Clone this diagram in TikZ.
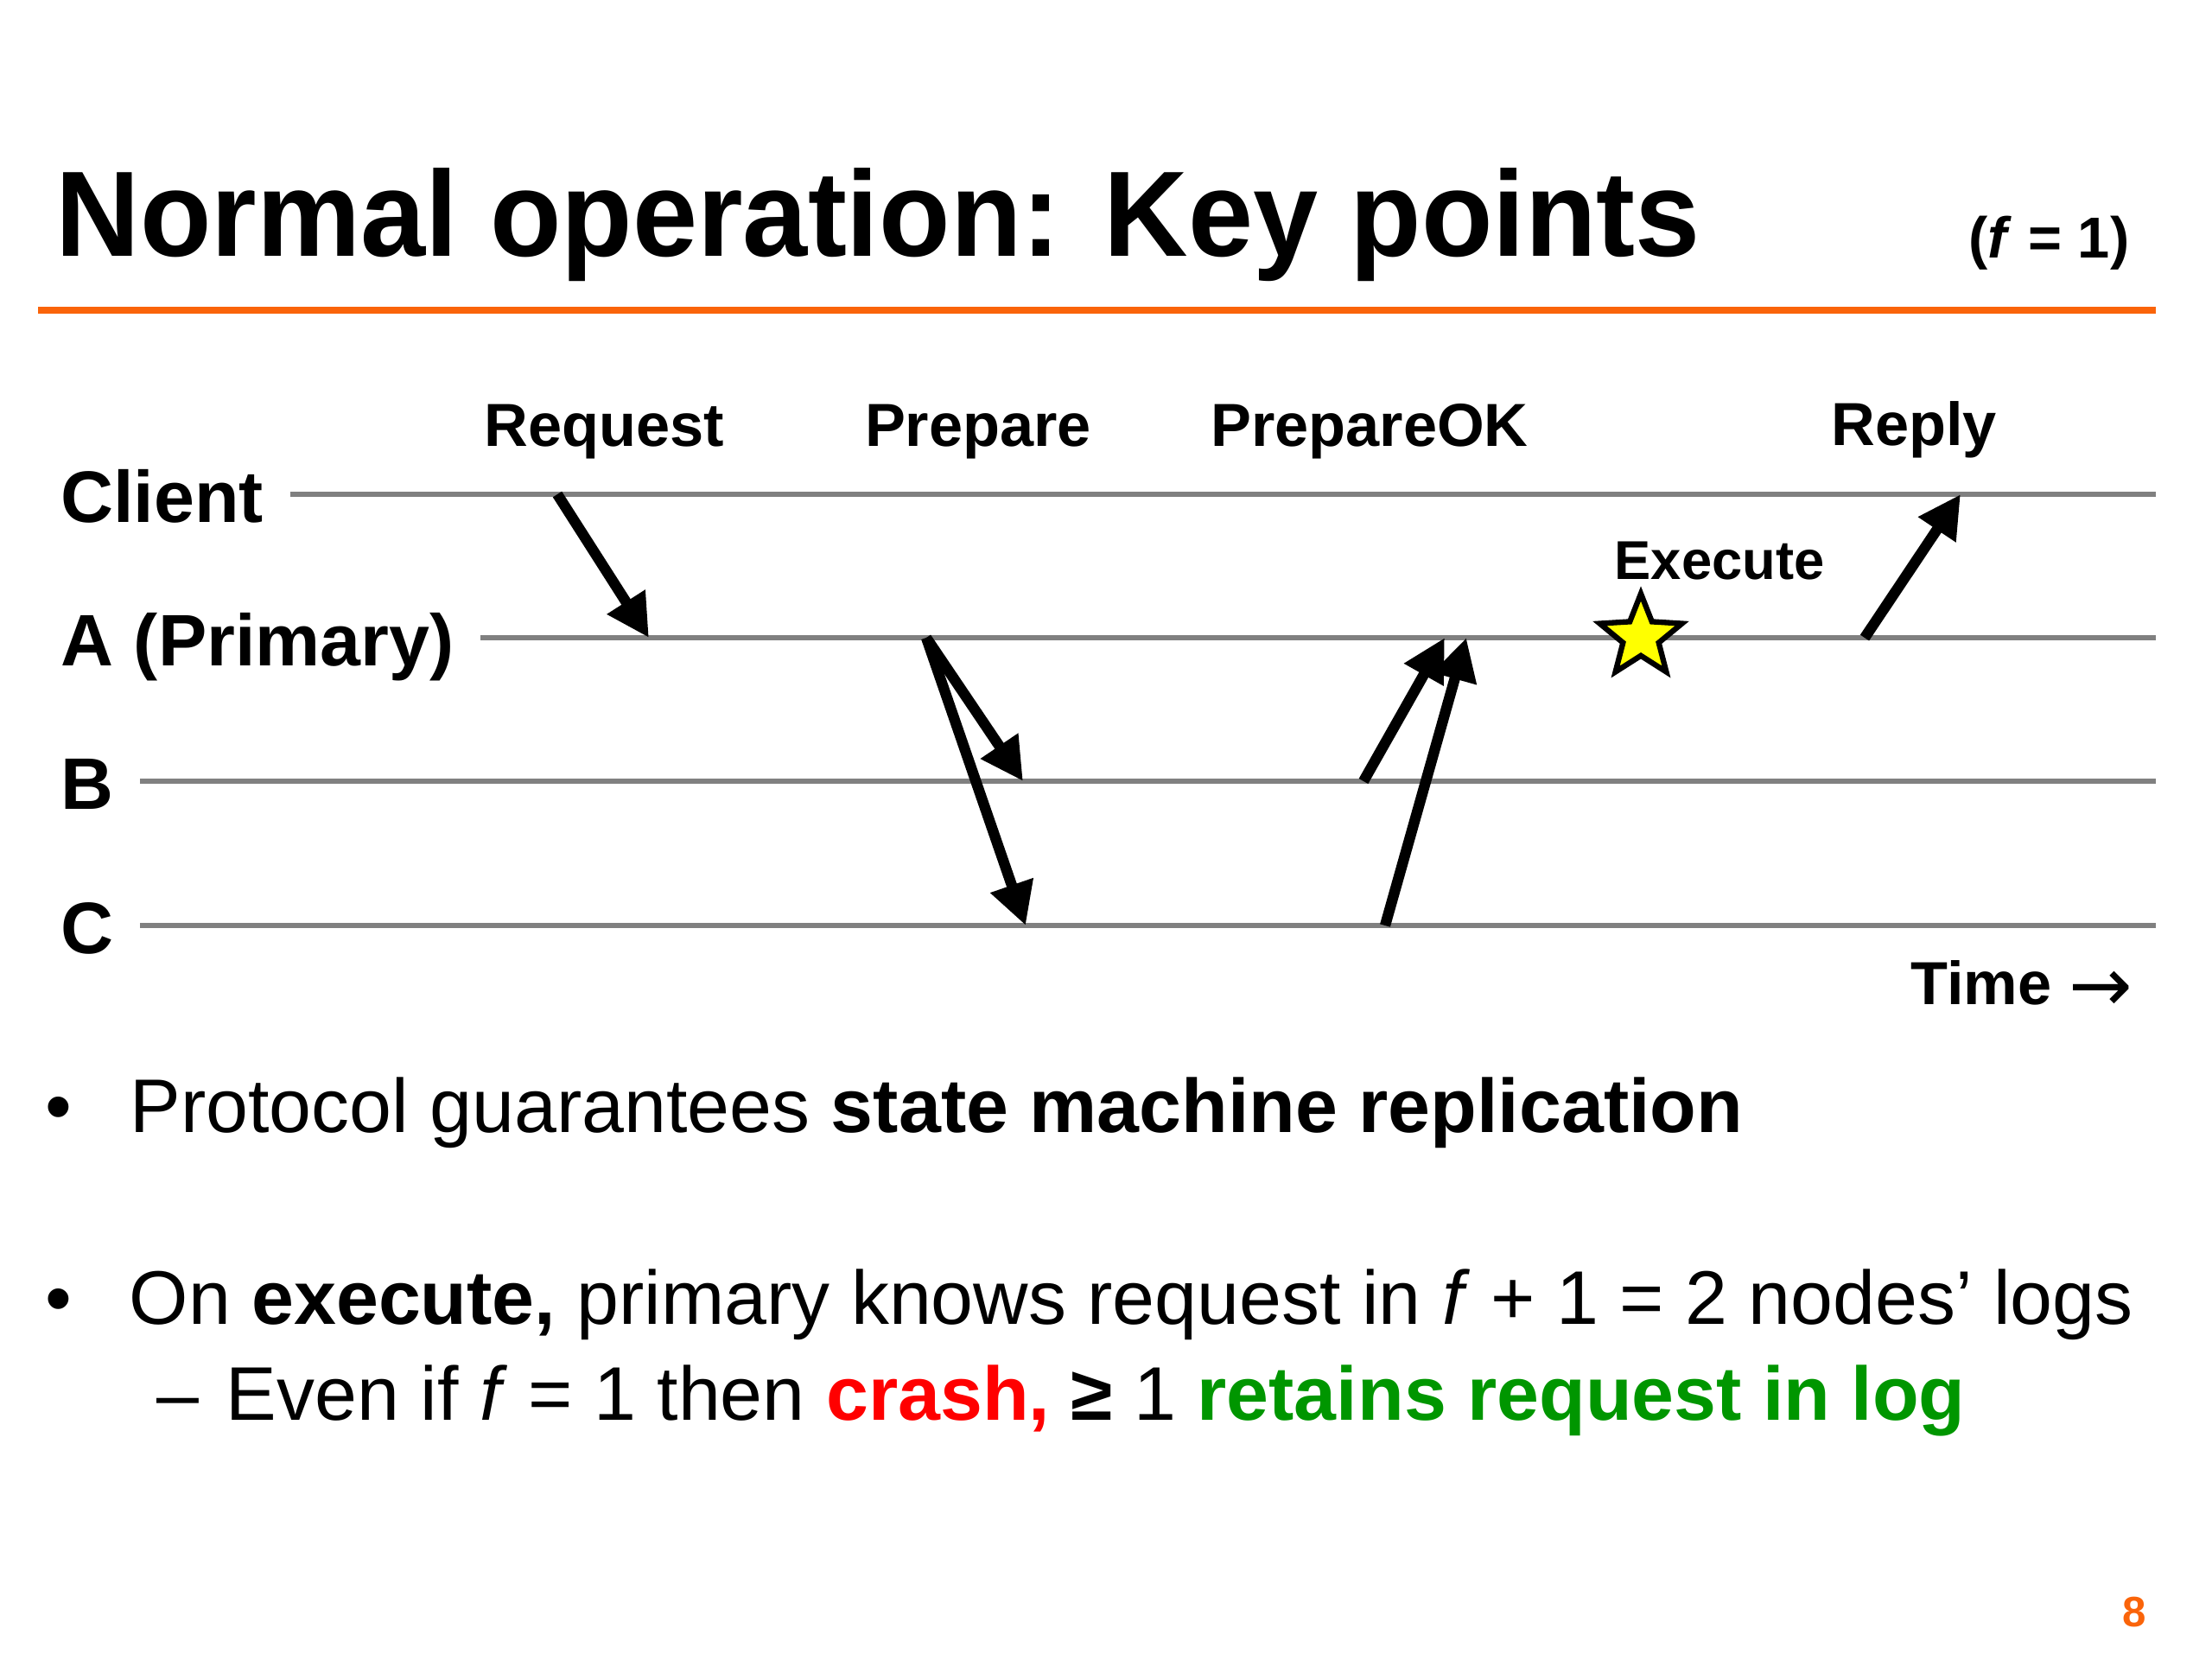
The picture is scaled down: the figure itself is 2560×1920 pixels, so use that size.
\documentclass[tikz,border=0pt]{standalone}
\usepackage{fontspec}
\setmainfont{Liberation Sans}
\newfontfamily\symfont{DejaVu Sans}
\usepackage{graphicx}
\usepackage{xcolor}
\definecolor{slideorange}{RGB}{250,100,10}
\definecolor{lanegray}{RGB}{128,128,128}
\definecolor{crashred}{RGB}{255,0,0}
\definecolor{keepgreen}{RGB}{0,150,0}
\definecolor{staryellow}{RGB}{255,255,0}
\usepackage{tikz}
\usetikzlibrary{arrows.meta,positioning,shapes.geometric}

\begin{document}
\begin{tikzpicture}[
  x=0.01cm, y=-0.01cm,
  txt/.style={inner sep=0pt, anchor=base west},
  lanelbl/.style={inner xsep=8.5pt, inner ysep=0pt, anchor=base west,
    font=\fontsize{24}{29}\selectfont\bfseries},
  msglbl/.style={inner sep=0pt, anchor=base,
    font=\fontsize{20}{24}\selectfont\bfseries},
  lane/.style={draw=lanegray, line width=1.9pt},
  msg/.style={-{Triangle[length=14pt,width=14pt]}, line width=3.5pt, black},
  bodytxt/.style={txt, font=\fontsize{25}{30}\selectfont},
  dotlbl/.style={inner sep=0pt, anchor=base, font=\fontsize{25}{30}\selectfont},
  rule/.style={draw=slideorange, line width=2pt}
]
  \useasboundingbox (0,0) rectangle (2560,1920);

  \node[txt, font=\fontsize{40}{48}\selectfont\bfseries] (title) at (64,296)
    {\scalebox{0.96}[1]{Normal operation: Key points}};
  \node[inner sep=0pt, anchor=base east, font=\fontsize{19}{23}\selectfont\bfseries]
    (fval) at (2465,298) {(\textit{f} = 1)};
  \coordinate (rulel) at (44,359);
  \coordinate (ruler) at (2495,359);
  \draw[rule] (rulel) -- (ruler);

  \node[lanelbl] (client) at (40,604) {Client};
  \node[lanelbl] (prim) at (40,770) {A (Primary)};
  \node[lanelbl] (repb) at (40,936) {B};
  \node[lanelbl] (repc) at (40,1103) {C};
  \coordinate (clientend) at (2495,572);
  \coordinate (primend) at (2495,738);
  \coordinate (repbend) at (2495,904);
  \coordinate (repcend) at (2495,1071);
  \draw[lane] (client.east |- clientend) -- (clientend);
  \draw[lane] (prim.east |- primend) -- (primend);
  \draw[lane] (repb.east |- repbend) -- (repbend);
  \draw[lane] (repc.east |- repcend) -- (repcend);

  \node[msglbl] (reqlbl) at (699,516) {Request};
  \node[msglbl] (prplbl) at (1132,516) {Prepare};
  \node[msglbl] (oklbl) at (1585,516) {PrepareOK};
  \node[msglbl] (replbl) at (2215,515) {Reply};

  \coordinate (rq1) at (645,572);
  \coordinate (rq2) at (751,738);
  \coordinate (pp0) at (1072,738);
  \coordinate (ppb) at (1184,904);
  \coordinate (ppc) at (1187,1071);
  \coordinate (okb) at (1578,904);
  \coordinate (okc) at (1603,1071);
  \coordinate (oka1) at (1672,738);
  \coordinate (oka2) at (1697,738);
  \coordinate (rp1) at (2158,738);
  \coordinate (rp2) at (2269,572);
  \draw[msg] (rq1) -- (rq2);
  \draw[msg] (pp0) -- (ppb);
  \draw[msg] (pp0) -- (ppc);
  \draw[msg] (okb) -- (oka1);
  \draw[msg] (okc) -- (oka2);
  \draw[msg] (rp1) -- (rp2);

  \node[star, star points=5, star point ratio=2.3, minimum size=1cm,
    inner sep=0pt, draw=black, fill=staryellow, line width=1.8pt]
    (exec) at (1899,737) {};
  \node[inner sep=0pt, anchor=base, font=\fontsize{18}{22}\selectfont\bfseries]
    (execlbl) at (1990,670) {Execute};

  \node[txt, font=\fontsize{20}{24}\selectfont\bfseries] (timelbl) at (2211,1162)
    {Time {\symfont\mdseries\fontsize{25}{25}\selectfont\raisebox{-2.5pt}{→}}};

  \node[dotlbl] (dot1) at (68,1310) {•};
  \node[bodytxt] (pt1) at (150,1310)
    {Protocol guarantees \textbf{state machine replication}};
  \node[dotlbl] (dot2) at (68,1532) {•};
  \node[bodytxt] (pt2) at (149,1532)
    {On \textbf{execute,} primary knows request in \textit{f} + 1 = 2 nodes’ logs};
  \node[bodytxt] (dash) at (181,1643) {–};
  \node[bodytxt, base right=8.5pt of dash] (sub)
    {Even if \textit{f} = 1 then \textcolor{crashred}{\textbf{crash,}} \textbf{≥} 1
     \textcolor{keepgreen}{\textbf{retains request in log}}};

  \node[inner sep=0pt, anchor=base east, font=\fontsize{14}{17}\selectfont\bfseries,
    text=slideorange] (pgno) at (2485,1882) {8};
\end{tikzpicture}
\end{document}
